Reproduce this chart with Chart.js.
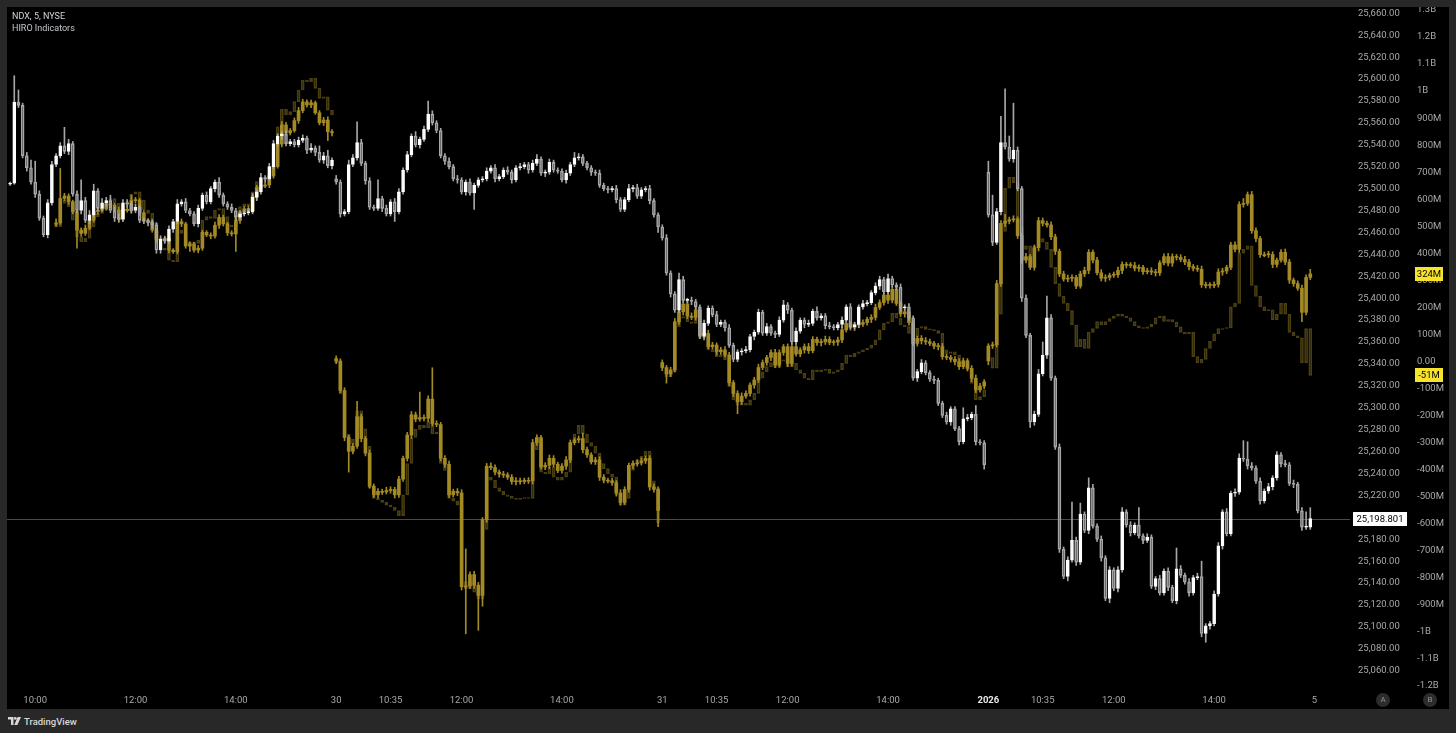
<!DOCTYPE html>
<html>
<head>
<meta charset="utf-8">
<script src="https://cdn.jsdelivr.net/npm/chart.js@4.4.1/dist/chart.umd.min.js"></script>
<style>
html,body{margin:0;padding:0;background:#282828;width:1456px;height:733px;overflow:hidden;font-family:Roboto,'Liberation Sans',sans-serif;}
#panel{position:absolute;left:7px;top:7px;width:1442px;height:702px;background:#000;}
#c{display:block;}
.t1{position:absolute;left:12px;top:11px;color:#d1d4dc;font-size:9px;line-height:11px;white-space:nowrap;}
.t2{position:absolute;left:12px;top:23px;color:#c4c7cf;font-size:9px;line-height:11px;white-space:nowrap;}
.btn{position:absolute;width:14px;height:14px;border-radius:7px;background:#2c2c2c;color:#8f8f8f;font-size:8px;line-height:14px;text-align:center;}
#foot{position:absolute;left:8px;top:714px;height:14px;display:flex;align-items:center;color:#d8d8d8;font-size:9.5px;font-weight:500;}
#foot svg{margin-right:3px;}
</style>
</head>
<body>
<div id="panel"><canvas id="c" width="1442" height="702"></canvas></div>
<div class="t1">NDX, 5, NYSE</div>
<div class="t2">HIRO Indicators</div>
<div class="btn" style="left:1376px;top:693px;">A</div>
<div class="btn" style="left:1423px;top:693px;">B</div>
<div id="foot"><svg width="13" height="8" viewBox="0 0 13 8"><path d="M0 0h5.5v8H3V2.6H0z" fill="#d8d8d8"/><circle cx="7.3" cy="1.4" r="1.4" fill="#d8d8d8"/><path d="M9.6 0H13L9.4 8H6.2z" fill="#d8d8d8"/></svg>TradingView</div>
<script>
// ---------------- DATA (5-minute bars, 78 per session) ----------------
const BARS_PER_DAY = 78;
const SLOTS = 321; // 312 bars + empty right margin

// time axis ticks (bar index -> label)
const timeTickIdx  = [6, 30, 54, 78, 91, 108, 132, 156, 169, 186, 210, 234, 247, 264, 288, 312];
const timeTickText = ['10:00','12:00','14:00','30','10:35','12:00','14:00','31','10:35','12:00','14:00','2026','10:35','12:00','14:00','5'];

// NDX closes (price), open of each session, wick extensions (points)
const ndxDayOpen = [25504, 25509, 25465, 25515];
const ndxClose = [
 25505,25579,25576,25530,25519,25506,25495,25473,25458,25487,25522,25530,25539,25534,25541,25495,25480,25489,25471,25476,
 25498,25482,25487,25489,25480,25473,25472,25487,25486,25480,25483,25471,25470,25469,25467,25444,25454,25452,25463,25470,
 25486,25488,25480,25477,25468,25482,25494,25488,25500,25506,25494,25486,25483,25480,25474,25477,25478,25479,25492,25497,
 25510,25509,25520,25541,25548,25550,25541,25543,25540,25544,25546,25535,25537,25533,25526,25530,25521,25526,
 25506,25477,25479,25522,25528,25542,25523,25507,25483,25482,25491,25482,25477,25488,25479,25497,25517,25531,25548,25540,
 25545,25554,25568,25560,25553,25530,25525,25520,25509,25508,25497,25506,25496,25503,25508,25509,25516,25519,25509,25511,
 25517,25515,25508,25519,25520,25522,25517,25523,25527,25514,25515,25524,25517,25516,25508,25514,25522,25528,25529,25523,
 25519,25515,25514,25503,25500,25499,25500,25490,25481,25490,25500,25501,25493,25499,25500,25489,25476,25465,
 25455,25423,25404,25389,25417,25398,25398,25397,25392,25365,25377,25391,25385,25376,25378,25373,25357,25344,25351,25352,
 25353,25365,25369,25387,25368,25374,25368,25367,25380,25394,25389,25360,25370,25380,25376,25377,25388,25382,25384,25375,
 25374,25373,25376,25380,25392,25374,25376,25392,25395,25396,25405,25411,25417,25406,25418,25412,25410,25391,25392,25382,
 25327,25333,25341,25332,25326,25325,25304,25293,25287,25299,25281,25269,25290,25291,25294,25269,25268,25248,
 25476,25451,25479,25542,25538,25527,25535,25500,25400,25366,25287,25294,25331,25348,25382,25327,25264,25171,25146,25161,
 25179,25159,25203,25188,25227,25192,25180,25163,25126,25152,25135,25152,25205,25193,25186,25193,25183,25179,25182,25137,
 25144,25131,25151,25136,25124,25153,25147,25141,25131,25145,25146,25094,25101,25103,25130,25174,25205,25185,25222,25223,
 25254,25253,25247,25245,25233,25215,25224,25228,25236,25257,25249,25248,25231,25230,25206,25191,25191,25198.801
];
const ndxWickUp = [
 1,24,11,2,3,7,19,3,2,3,3,2,3,17,4,2,3,19,3,4,6,2,4,3,5,3,4,3,3,2,3,2,2,2,2,2,3,2,3,2,4,2,3,2,2,3,2,3,2,2,4,2,2,3,2,2,2,3,3,2,4,2,3,3,2,2,3,2,2,3,3,2,4,2,6,3,5,2,
 3,2,2,4,3,19,3,2,3,2,17,2,3,2,3,3,2,3,2,4,2,3,12,3,2,2,2,3,2,3,2,2,3,2,2,2,3,2,3,2,2,3,2,2,3,2,2,3,4,2,2,3,2,2,2,3,2,5,3,2,2,2,2,3,2,2,2,3,2,2,4,2,3,2,2,3,2,2,
 2,3,2,2,6,3,2,3,2,2,3,2,2,3,2,2,3,2,2,2,3,2,2,3,2,3,2,2,3,4,2,2,3,2,2,3,2,4,2,2,3,2,2,3,2,3,2,2,3,2,2,3,3,2,4,2,2,3,2,3,2,2,3,2,2,3,2,2,3,2,2,2,10,3,2,8,2,2,
 10,18,3,24,49,10,43,3,2,3,2,3,4,12,20,3,2,3,2,3,35,3,10,2,9,3,2,3,2,3,2,3,4,2,3,2,16,2,3,2,2,3,2,3,2,19,3,2,3,2,3,14,2,2,3,3,2,3,2,3,4,16,16,3,2,3,2,3,2,3,2,3,2,3,2,3,14,10
];
const ndxWickDn = [
 1,1,2,2,3,2,3,2,2,3,2,2,2,2,3,2,2,3,2,3,2,2,2,3,2,3,2,2,3,2,2,2,2,3,3,3,3,2,2,3,2,2,2,2,2,3,2,2,2,3,2,2,2,2,3,2,2,2,2,3,2,3,2,2,2,3,2,2,2,2,2,3,2,3,2,3,2,3,
 2,3,2,2,2,2,2,3,2,2,2,3,2,2,9,2,2,2,2,2,3,2,2,2,2,2,3,2,2,3,2,3,2,15,2,2,2,2,3,2,2,2,3,2,2,2,3,2,2,2,3,2,2,2,2,3,2,2,2,2,2,3,2,2,2,3,2,3,2,2,2,3,2,2,2,3,2,5,
 2,2,3,2,2,2,2,3,2,2,3,2,2,2,2,3,2,2,2,3,2,2,3,2,2,2,2,3,2,2,3,2,2,2,3,2,2,2,2,3,2,2,2,3,2,2,2,3,2,2,2,2,3,2,2,2,2,3,2,2,2,3,2,2,2,3,2,2,2,3,2,3,2,2,2,3,2,4,
 2,3,2,3,2,2,3,2,3,2,5,3,2,2,3,2,2,3,2,4,2,3,2,2,3,2,2,3,2,4,2,3,2,2,3,2,2,3,2,2,3,2,2,3,2,3,2,2,3,2,2,3,8,3,2,2,3,2,2,3,2,2,3,2,2,3,2,2,3,2,3,2,2,3,2,3,2,2
];

// HIRO (gold) closes in millions, session opens, wick extensions (M)
const hiroDayOpen = [508, 11, -4, 2];
const hiroClose = [
 null,null,null,null,null,null,null,null,null,null,null,
 513,603,612,591,554,486,474,493,523,554,560,566,583,579,560,526,563,558,595,597,
 550,523,517,486,452,449,456,412,406,517,509,427,435,412,419,478,468,464,504,533,
 509,476,472,521,553,565,558,610,644,649,653,686,721,804,875,846,854,891,928,960,
 949,957,920,883,893,850,846,
 2,-107,-281,-332,-313,-204,-285,-339,-461,-493,-480,-482,-477,-473,-493,-435,-358,-272,-197,-213,
 -207,-210,-139,-229,-233,-358,-380,-493,-480,-486,-833,-830,-788,-827,-865,-585,-387,-392,-409,-416,
 -419,-428,-444,-441,-444,-439,-441,-300,-281,-390,-384,-358,-380,-403,-387,-364,-300,-290,-285,-326,
 -345,-371,-364,-428,-439,-441,-448,-486,-521,-473,-384,-377,-375,-367,-358,-464,-473,-551,
 -22,-46,-31,147,184,213,168,163,191,98,104,55,61,36,43,24,-78,-118,-149,-128,
 -118,-87,-68,-22,-4,15,33,-13,33,55,-7,55,28,43,55,40,82,70,73,82,
 70,72,80,117,141,126,135,138,144,156,163,200,218,246,227,267,215,176,184,144,
 67,86,77,73,67,57,55,18,15,8,-1,-19,3,-25,-62,-105,-91,-75,
 58,62,288,511,519,524,527,465,375,388,348,421,521,511,505,461,408,324,305,308,
 311,279,324,337,404,375,328,308,311,319,321,337,359,356,355,345,348,332,335,331,
 328,365,388,364,388,385,377,368,351,345,341,284,284,281,285,331,335,348,431,415,
 581,585,617,484,455,395,395,396,359,375,404,368,301,288,271,182,311,324
];
const hiroWickUp = [
 0,0,0,0,0,0,0,0,0,0,0,15,111,10,8,6,10,8,12,6,10,8,6,10,8,6,12,10,8,20,10,6,8,6,10,8,6,8,10,6,8,10,6,8,6,10,8,6,8,12,10,8,6,8,10,6,8,10,12,8,6,10,8,15,30,12,10,8,10,12,10,8,10,6,8,10,12,8,
 10,8,10,8,10,57,10,8,12,8,10,8,12,10,8,10,8,10,12,10,94,10,12,116,10,8,10,12,8,10,12,137,10,12,10,8,10,12,10,8,10,8,10,12,10,8,10,12,10,8,10,12,10,8,10,12,10,8,10,20,10,8,10,12,10,8,10,8,12,10,8,10,12,10,8,10,12,10,
 10,8,10,12,10,8,10,12,10,8,10,12,10,8,10,12,10,8,10,12,10,8,10,12,10,8,10,12,10,8,10,12,10,8,10,12,10,8,10,12,10,8,10,12,10,8,10,12,10,8,10,12,10,8,10,12,10,8,10,12,10,8,10,12,10,8,10,12,10,8,10,12,10,8,10,12,10,8,
 8,10,12,10,25,10,12,8,10,12,8,10,12,10,8,12,10,8,10,12,10,8,10,12,10,8,10,12,10,8,10,12,10,8,10,12,10,8,10,12,10,8,10,12,10,8,10,12,10,8,10,12,10,8,10,12,10,8,10,12,10,18,10,12,10,8,10,12,10,8,10,12,10,8,10,12,10,17
];
const hiroWickDn = [
 0,0,0,0,0,0,0,0,0,0,0,8,6,8,10,8,67,10,8,6,8,10,8,6,10,8,12,8,6,10,8,10,8,6,8,10,12,8,10,6,8,10,8,20,8,10,8,6,10,8,12,8,10,8,65,10,8,6,8,10,8,6,10,8,6,10,8,8,6,10,8,8,10,6,8,10,33,12,
 10,8,12,77,10,8,12,10,8,10,12,10,8,10,12,10,8,10,12,10,8,10,12,10,8,10,12,10,8,10,12,174,10,12,129,40,10,8,10,12,10,8,10,12,10,8,10,12,10,8,10,12,10,8,10,12,10,8,10,12,10,8,10,12,10,8,10,12,10,8,10,12,10,8,10,12,10,60,
 12,34,10,8,10,12,10,8,10,12,10,8,10,12,10,8,10,12,44,10,8,10,12,10,8,10,12,10,8,10,12,10,8,10,12,10,8,10,12,10,8,10,12,10,8,10,12,10,8,10,12,10,8,10,12,10,8,10,12,10,8,10,12,10,8,10,12,10,8,10,12,10,8,10,12,10,8,10,
 14,10,8,10,12,10,8,10,12,10,8,10,12,10,8,10,12,10,8,10,12,10,8,10,12,10,8,10,12,10,8,10,12,10,8,10,12,10,8,10,12,10,8,10,12,10,8,10,12,10,8,10,12,10,8,10,12,10,8,10,12,10,8,10,12,10,8,10,12,10,8,10,12,10,8,35,10,8
];

// HIRO second line (dim) closes in millions and session opens
const hiro2DayOpen = [508, 9, -4, 2];
const hiro2Close = [
 null,null,null,null,null,null,null,null,null,null,null,
 499,585,597,573,523,462,443,456,499,536,548,560,591,603,585,548,579,591,619,628,
 597,560,548,511,437,419,412,375,369,486,474,431,443,437,449,523,536,529,560,566,
 536,505,499,542,573,583,575,628,665,671,677,721,770,868,933,912,924,961,1004,1041,
 1035,1047,1010,973,979,930,912,
 -4,-120,-268,-306,-287,-182,-249,-313,-467,-506,-512,-521,-531,-538,-551,-570,-493,-377,-281,-251,
 -236,-246,-223,-268,-261,-377,-403,-506,-516,-531,-814,-840,-814,-853,-878,-621,-428,-439,-467,-480,
 -493,-499,-506,-508,-506,-503,-506,-326,-300,-409,-416,-390,-428,-439,-428,-409,-300,-268,-236,-268,
 -300,-313,-339,-377,-396,-416,-428,-493,-531,-506,-403,-377,-364,-351,-332,-441,-467,-596,
 -25,-56,-38,129,160,166,147,141,160,86,92,43,36,18,24,6,-93,-142,-161,-155,
 -161,-142,-118,-62,-38,-19,-4,-22,1,6,-19,-7,-31,-44,-62,-68,-31,-38,-31,-29,
 -44,-38,-31,-7,24,18,30,36,43,49,61,80,117,141,147,178,160,135,129,104,
 92,123,129,119,117,114,104,43,30,36,24,-7,-1,-31,-81,-142,-130,-105,
 15,-25,175,481,641,681,661,495,415,428,361,428,455,441,415,348,288,241,215,188,
 135,55,82,48,108,122,148,135,148,159,168,175,168,162,148,132,124,122,128,138,
 162,168,148,155,146,128,108,102,108,18,-5,8,48,75,102,122,122,124,202,215,
 401,415,428,281,241,202,188,191,155,175,215,175,108,95,88,-5,122,-51
];

// ---------------- BUILD ----------------
function candles(close, dayOpen, wUp, wDn) {
  const body = [], hiW = [], loW = [], rising = [];
  let prev = null, day = -1;
  for (let i = 0; i < close.length; i++) {
    const c = close[i];
    if (c === null || c === undefined) { body.push(null); hiW.push(null); loW.push(null); rising.push(false); continue; }
    const d = Math.floor(i / BARS_PER_DAY);
    const o = (d !== day) ? dayOpen[d] : prev;
    day = d; prev = c;
    const lo = Math.min(o, c), hi = Math.max(o, c);
    body.push([lo, hi]);
    rising.push(c >= o);
    hiW.push(wUp && wUp[i] > 0 ? [hi, hi + wUp[i]] : null);
    loW.push(wDn && wDn[i] > 0 ? [lo - wDn[i], lo] : null);
  }
  return { body, hiW, loW, rising };
}
const nd = candles(ndxClose, ndxDayOpen, ndxWickUp, ndxWickDn);
const gd = candles(hiroClose, hiroDayOpen, hiroWickUp, hiroWickDn);
const dm = candles(hiro2Close, hiro2DayOpen, null, null);

const labels = Array.from({ length: SLOTS }, (_, i) => i);
const GOLD = '#a38a24';
const DIM = 'rgba(150,127,33,0.5)';
const FONT = 'Roboto';

function fmtH(v) {
  if (v === 0) return '0.00';
  if (Math.abs(v) >= 1000) return (Math.round(v / 100) / 10) + 'B';
  return Math.round(v) + 'M';
}

function badge(ctx, x, yc, w, h, bg, fg, text) {
  ctx.fillStyle = bg;
  ctx.fillRect(x, Math.round(yc - h / 2), w, h);
  ctx.fillStyle = fg;
  ctx.font = '9.5px ' + FONT;
  ctx.textAlign = 'center';
  ctx.textBaseline = 'middle';
  ctx.fillText(text, x + w / 2, yc + 0.5);
}

const overlay = {
  id: 'overlay',
  beforeDatasetsDraw(chart) {
    const { ctx, chartArea, scales } = chart;
    const y = Math.round(scales.yP.getPixelForValue(ndxClose[ndxClose.length - 1])) + 0.5;
    ctx.save();
    ctx.strokeStyle = '#4b4b4b';
    ctx.lineWidth = 1;
    ctx.beginPath(); ctx.moveTo(0, y); ctx.lineTo(chartArea.right, y); ctx.stroke();
    ctx.restore();
  },
  afterDraw(chart) {
    const { ctx, chartArea, scales } = chart;
    ctx.save();
    const last = ndxClose[ndxClose.length - 1];
    badge(ctx, chartArea.right + 3, scales.yP.getPixelForValue(last), 54, 14, '#ffffff', '#000000',
      last.toLocaleString('en-US', { minimumFractionDigits: 3, maximumFractionDigits: 3 }));
    const hx = scales.yH.left + 5;
    const g = hiroClose[hiroClose.length - 1];
    const d = hiro2Close[hiro2Close.length - 1];
    badge(ctx, hx, scales.yH.getPixelForValue(g), 28, 14, '#f7e22c', '#000000', fmtH(g));
    badge(ctx, hx, scales.yH.getPixelForValue(d), 28, 14, '#f7e22c', '#000000', fmtH(d));
    ctx.restore();
  }
};

function noPad(axis) {
  axis.paddingTop = 0; axis.paddingBottom = 0; axis.paddingLeft = 0; axis.paddingRight = 0;
}

const barBase = { grouped: false, skipNull: true, borderSkipped: false };
const noGrid = { display: false, drawTicks: false, tickLength: 0 };

new Chart(document.getElementById('c'), {
  type: 'bar',
  data: {
    labels,
    datasets: [
      Object.assign({ label: 'NDX', data: nd.body, yAxisID: 'yP', order: 0, barThickness: 3, minBarLength: 1,
        backgroundColor: nd.rising.map(r => r ? '#ffffff' : 'rgba(0,0,0,0)'),
        borderColor: nd.rising.map(r => r ? '#ffffff' : '#a6a6a6'), borderWidth: 1 }, barBase),
      Object.assign({ label: 'NDX high', data: nd.hiW, yAxisID: 'yP', order: 1, barThickness: 1,
        backgroundColor: '#a6a6a6', borderWidth: 0 }, barBase),
      Object.assign({ label: 'NDX low', data: nd.loW, yAxisID: 'yP', order: 1, barThickness: 1,
        backgroundColor: '#a6a6a6', borderWidth: 0 }, barBase),
      Object.assign({ label: 'HIRO', data: gd.body, yAxisID: 'yH', order: 2, barThickness: 3, minBarLength: 1,
        backgroundColor: GOLD, borderColor: GOLD, borderWidth: 0 }, barBase),
      Object.assign({ label: 'HIRO high', data: gd.hiW, yAxisID: 'yH', order: 3, barThickness: 1,
        backgroundColor: GOLD, borderWidth: 0 }, barBase),
      Object.assign({ label: 'HIRO low', data: gd.loW, yAxisID: 'yH', order: 3, barThickness: 1,
        backgroundColor: GOLD, borderWidth: 0 }, barBase),
      Object.assign({ label: 'HIRO 2', data: dm.body, yAxisID: 'yH', order: 4, barThickness: 3, minBarLength: 1,
        backgroundColor: 'rgba(0,0,0,0)', borderColor: DIM, borderWidth: 1 }, barBase)
    ]
  },
  options: {
    responsive: false,
    animation: false,
    devicePixelRatio: 1,
    layout: { padding: { left: 1, right: 0, top: 0, bottom: 0 } },
    plugins: { legend: { display: false }, tooltip: { enabled: false } },
    scales: {
      x: {
        type: 'category', offset: true,
        grid: noGrid, border: { display: false },
        afterBuildTicks(axis) { axis.ticks = timeTickIdx.map(v => ({ value: v })); },
        afterFit(axis) { axis.height = 21; noPad(axis); },
        ticks: {
          autoSkip: false, maxRotation: 0, minRotation: 0, padding: 7,
          color: c => timeTickText[c.index] === '2026' ? '#e8e8e8' : '#a8a8a8',
          font: c => ({ family: FONT, size: 9.5, weight: timeTickText[c.index] === '2026' ? 'bold' : 'normal' }),
          callback: (v, i) => timeTickText[i]
        }
      },
      yP: {
        type: 'linear', position: 'right', weight: 0,
        min: 25044.23, max: 25665.75,
        grid: noGrid, border: { display: false },
        afterFit(axis) { axis.width = 60; noPad(axis); },
        ticks: {
          stepSize: 20, includeBounds: false, padding: 8, color: '#a8a8a8',
          font: { family: FONT, size: 9.5 },
          callback: v => Number(v).toLocaleString('en-US', { minimumFractionDigits: 2, maximumFractionDigits: 2 })
        }
      },
      yH: {
        type: 'linear', position: 'right', weight: 1,
        min: -1207.4, max: 1311.1,
        grid: noGrid, border: { display: false },
        afterFit(axis) { axis.width = 39; noPad(axis); },
        ticks: {
          stepSize: 100, includeBounds: false, padding: 7, color: '#a8a8a8',
          font: { family: FONT, size: 9.5 },
          callback: v => fmtH(Math.round(v))
        }
      }
    }
  },
  plugins: [overlay]
});
</script>
</body>
</html>
